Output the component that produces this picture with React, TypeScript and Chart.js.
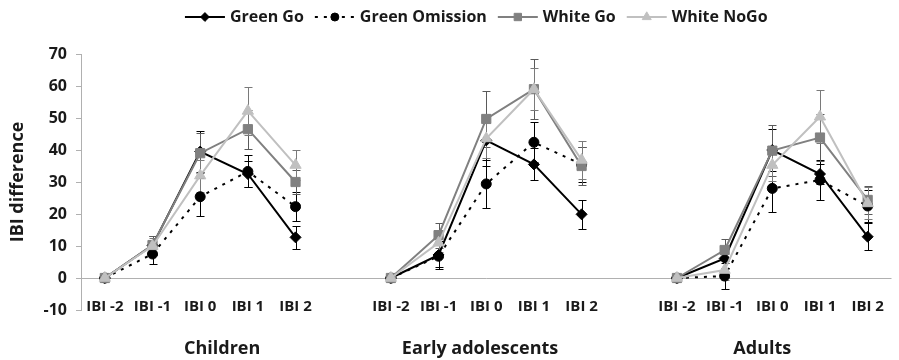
import React, { useEffect, useRef } from 'react';
import { Chart, registerables } from 'chart.js';
import { drawPoint } from 'chart.js/helpers';

Chart.register(...registerables);

// ---------- data ----------
const CATEGORIES = [
  'IBI -2', 'IBI -1', 'IBI 0', 'IBI 1', 'IBI 2', '',
  'IBI -2', 'IBI -1', 'IBI 0', 'IBI 1', 'IBI 2', '',
  'IBI -2', 'IBI -1', 'IBI 0', 'IBI 1', 'IBI 2',
];
const GROUPS = ['Children', 'Early adolescents', 'Adults'];
// category-index position of each group label
const GROUP_AT = [2.46, 7.87, 13.79];

const SERIES_NAMES = ['Green Go', 'Green Omission', 'White Go', 'White NoGo'];

const GREEN_GO = [0, 10.2, 39.5, 32.5, 12.7, null, 0, 7.2, 43, 35.5, 19.9, null, 0, 6.1, 40, 32.5, 12.9];
const GREEN_GO_SE = [0, 3, 6.3, 4, 3.6, null, 0, 4.3, 8, 5, 4.5, null, 0, 3, 6.5, 3, 4.2];

const GREEN_OMISSION = [0, 7.5, 25.4, 33.3, 22.3, null, 0, 6.8, 29.4, 42.4, 35.5, null, 0, 0.6, 28, 30.6, 22.5];
const GREEN_OMISSION_SE = [0, 3.2, 6, 5, 4.5, null, 0, 3.5, 7.6, 6.2, 5.5, null, 0, 4, 7.3, 6.2, 5];

const WHITE_GO = [0, 10.3, 39, 46.5, 30, null, 0, 13.4, 49.7, 59, 35, null, 0, 8.75, 39.8, 43.9, 24.4];
const WHITE_GO_SE = [0, 2.8, 6.2, 6.1, 3.9, null, 0, 3.9, 8.7, 9.3, 6, null, 0, 3.5, 8, 7.2, 4.5];

const WHITE_NOGO = [0, 10, 32, 52.2, 35.3, null, 0, 11, 43.6, 59, 36.9, null, 0, 2.5, 35.3, 50.4, 23.3];
const WHITE_NOGO_SE = [0, 2.5, 5, 7.4, 4.7, null, 0, 3, 6, 6.5, 6, null, 0, 3, 5, 8.3, 5];

const Y_MIN = -10;
const Y_MAX = 70;
const Y_STEP = 10;
const Y_TITLE = 'IBI difference';

const FONT = "'Open Sans', 'DejaVu Sans', sans-serif";
const TEXT = '#1a1a1a';
const AXIS_GRAY = '#b0b0b0';

const errorBars = {
  id: 'errorBars',
  beforeDatasetsDraw(chart: any) {
    const ctx = chart.ctx;
    const ys = chart.scales.y;
    chart.data.datasets.forEach((ds: any, di: number) => {
      const meta = chart.getDatasetMeta(di);
      ctx.save();
      ctx.strokeStyle = ds.errorColor;
      ctx.lineWidth = 1;
      meta.data.forEach((pt: any, i: number) => {
        const v = ds.data[i];
        const e = ds.errors[i];
        if (v == null || !e) return;
        const x = Math.round(pt.x) + 0.5;
        const yt = Math.round(ys.getPixelForValue(v + e)) + 0.5;
        const yb = Math.round(ys.getPixelForValue(v - e)) + 0.5;
        ctx.beginPath();
        ctx.moveTo(x, yt); ctx.lineTo(x, yb);
        ctx.moveTo(x - 4, yt); ctx.lineTo(x + 4, yt);
        ctx.moveTo(x - 4, yb); ctx.lineTo(x + 4, yb);
        ctx.stroke();
      });
      ctx.restore();
    });
  },
};

const labelsAndLegend = {
  id: 'labelsAndLegend',
  afterDraw(chart: any) {
    const ctx = chart.ctx;
    const xs = chart.scales.x;
    const area = chart.chartArea;
    ctx.save();
    ctx.fillStyle = TEXT;
    ctx.textBaseline = 'middle';
    ctx.textAlign = 'center';
    // category labels
    ctx.font = `bold 15px ${FONT}`;
    CATEGORIES.forEach((c, i) => {
      if (!c) return;
      ctx.fillText(c, xs.getPixelForValue(i), area.bottom - 3);
    });
    // group labels
    ctx.font = `bold 18px ${FONT}`;
    GROUPS.forEach((g, i) => {
      ctx.fillText(g, xs.getPixelForValue(GROUP_AT[i]), 349);
    });

    // legend
    ctx.font = `bold 16px ${FONT}`;
    const sample = 40, gap = 5, itemGap = 11;
    const widths = chart.data.datasets.map((ds: any) => sample + gap + ctx.measureText(ds.label).width);
    const total = widths.reduce((a: number, b: number) => a + b, 0) + itemGap * (widths.length - 1);
    let x = (area.left + area.right) / 2 - 10 - total / 2;
    const ly = 17;
    chart.data.datasets.forEach((ds: any, i: number) => {
      ctx.save();
      ctx.strokeStyle = ds.borderColor;
      ctx.lineWidth = ds.borderWidth;
      ctx.setLineDash(ds.borderDash || []);
      ctx.beginPath();
      ctx.moveTo(x, ly);
      ctx.lineTo(x + sample, ly);
      ctx.stroke();
      ctx.setLineDash([]);
      ctx.fillStyle = ds.pointBackgroundColor;
      ctx.strokeStyle = ds.pointBorderColor;
      ctx.lineWidth = 1;
      drawPoint(ctx, { pointStyle: ds.pointStyle, radius: ds.pointRadius * 0.8, rotation: 0, borderWidth: 1 }, x + sample / 2, ly);
      ctx.restore();
      ctx.textAlign = 'left';
      ctx.fillStyle = TEXT;
      ctx.fillText(ds.label, x + sample + gap, ly);
      x += widths[i] + itemGap;
    });
    ctx.restore();
  },
};

export default function App() {
  const ref = useRef<HTMLCanvasElement | null>(null);
  useEffect(() => {
    if (!ref.current) return;
    const mk = (label: string, data: any[], errors: any[], color: string, errColor: string, style: string, radius: number, dash: number[] | undefined, order: number) => ({
      label,
      data,
      errors,
      errorColor: errColor,
      borderColor: color,
      backgroundColor: color,
      pointBackgroundColor: color,
      pointBorderColor: color,
      pointBorderWidth: 1,
      pointStyle: style,
      pointRadius: radius,
      borderWidth: 2,
      borderDash: dash,
      spanGaps: false,
      tension: 0,
      order,
    });
    const chart = new Chart(ref.current, {
      type: 'line',
      data: {
        labels: CATEGORIES,
        datasets: [
          mk(SERIES_NAMES[0], GREEN_GO, GREEN_GO_SE, '#000000', '#000000', 'rectRot', 5.5, undefined, 4),
          mk(SERIES_NAMES[1], GREEN_OMISSION, GREEN_OMISSION_SE, '#000000', '#000000', 'circle', 5, [3, 6], 3),
          mk(SERIES_NAMES[2], WHITE_GO, WHITE_GO_SE, '#808080', '#5a5a5a', 'rect', 6.5, undefined, 2),
          mk(SERIES_NAMES[3], WHITE_NOGO, WHITE_NOGO_SE, '#c0c0c0', '#7a7a7a', 'triangle', 6.5, undefined, 1),
        ] as any,
      },
      options: {
        animation: false,
        responsive: true,
        maintainAspectRatio: false,
        events: [],
        layout: { padding: { top: 54, left: 0, right: 0, bottom: 0 } },
        plugins: { legend: { display: false }, tooltip: { enabled: false }, title: { display: false } },
        scales: {
          x: {
            type: 'category',
            offset: true,
            grid: { display: false },
            border: { display: false },
            ticks: { display: false },
            afterFit: (s: any) => { s.height = 50; },
          },
          y: {
            min: Y_MIN,
            max: Y_MAX,
            ticks: {
              stepSize: Y_STEP,
              color: TEXT,
              font: { family: FONT, size: 16, weight: 'bold' },
              padding: 9,
            },
            grid: {
              color: (c: any) => (c.tick && c.tick.value === 0 ? AXIS_GRAY : 'rgba(0,0,0,0)'),
              tickColor: AXIS_GRAY,
              tickLength: 5,
              lineWidth: 1,
            },
            border: { display: true, color: AXIS_GRAY, width: 1 },
            title: {
              display: true,
              text: Y_TITLE,
              color: TEXT,
              font: { family: FONT, size: 18, weight: 'bold' },
              padding: { top: 7, bottom: 0 },
            },
            afterFit: (s: any) => { s.width = 81; },
          },
        },
      } as any,
      plugins: [errorBars, labelsAndLegend],
    });
    return () => chart.destroy();
  }, []);
  return (
    <div style={{ position: 'absolute', left: 0, top: 0, width: 899, height: 360 }}>
      <canvas ref={ref} />
    </div>
  );
}
